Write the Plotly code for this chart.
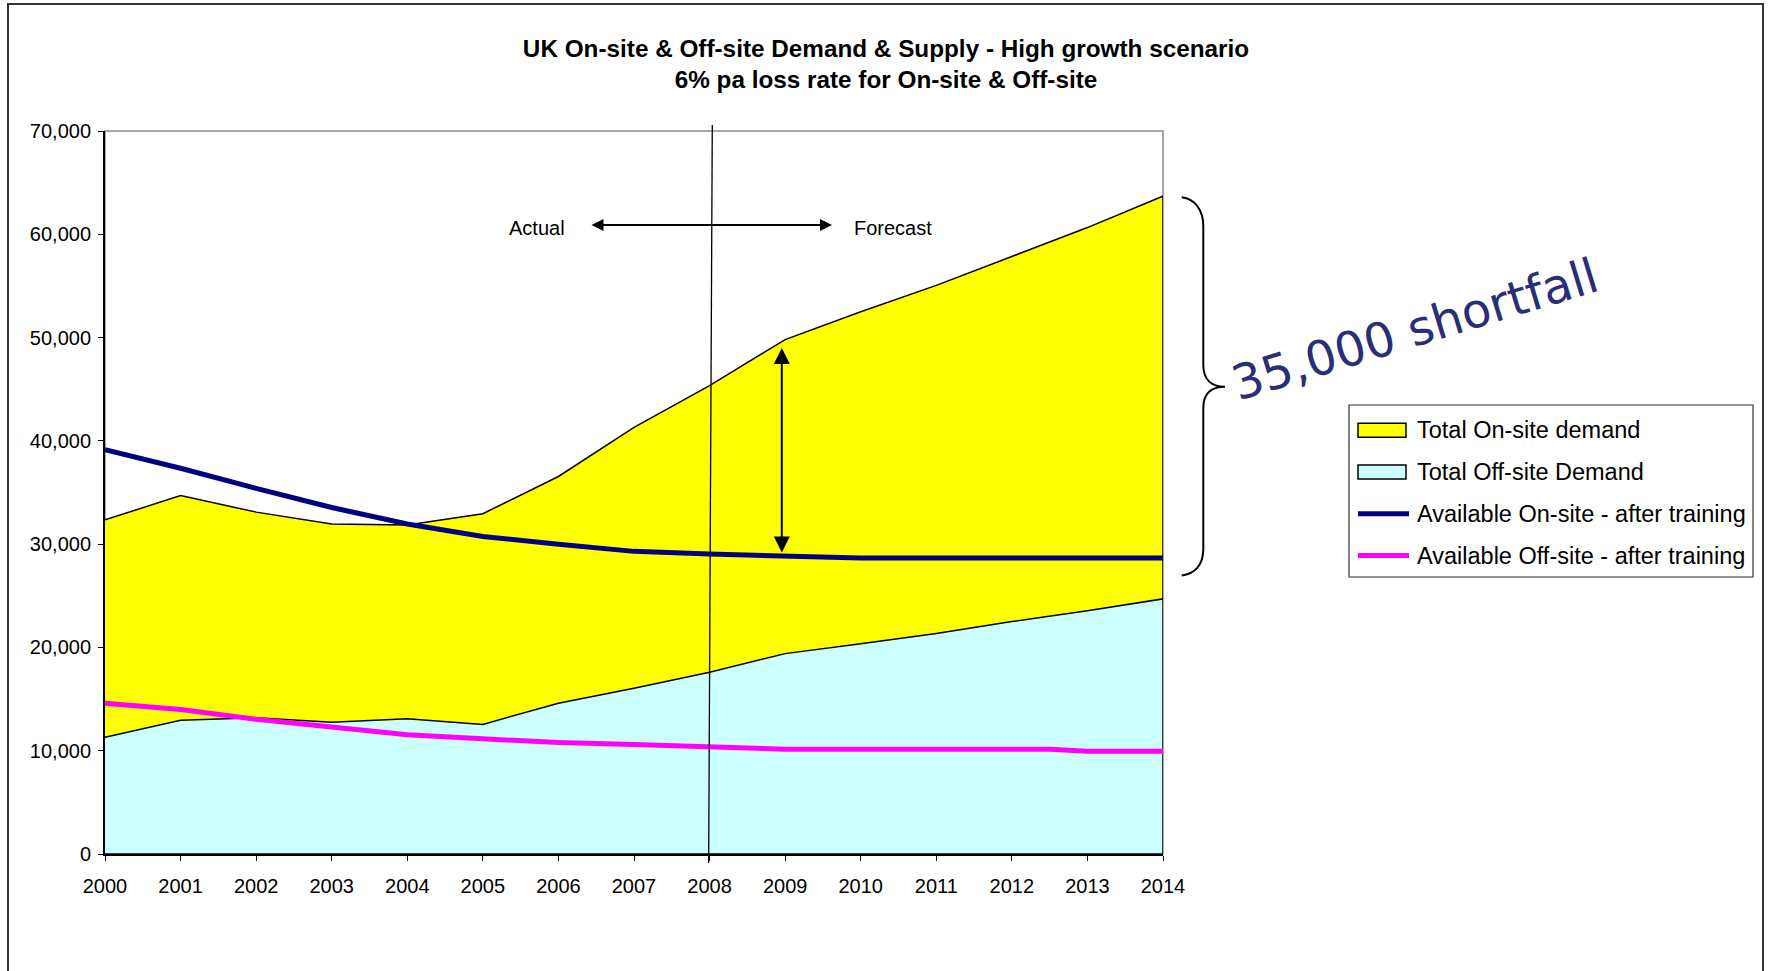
import plotly.graph_objects as go

# data
years = list(range(2000, 2015))
onsite_demand = [32350, 34700, 33100, 31950, 31850, 32950, 36550, 41300,
                 45350, 49800, 52500, 55050, 57850, 60650, 63700]
offsite_demand = [11300, 12950, 13200, 12750, 13100, 12550, 14600, 16050,
                  17600, 19400, 20350, 21350, 22500, 23550, 24700]
onsite_available = [39150, 37350, 35400, 33550, 31950, 30750, 30000, 29300,
                    29050, 28900, 28650, 28650, 28650, 28650, 28650]
offsite_years = years[:13] + [2012.5, 2013, 2014]
offsite_available = [14600, 14000, 13050, 12250, 11550, 11150, 10800, 10600,
                     10400, 10150, 10150, 10150, 10150, 10150, 9950, 9950]
y_ticks = [0, 10000, 20000, 30000, 40000, 50000, 60000, 70000]
series_names = ['Total On-site demand', 'Total Off-site Demand',
                'Available On-site - after training',
                'Available Off-site - after training']
colors = ['#FFFF00', '#CCFFFF', '#000080', '#FF00FF']

W, H = 1768, 971
# plot area in page pixels
L, R, T, B = 105, 1163, 131, 854
FONT = "Liberation Sans, Arial, sans-serif"


def px(x):
    return (x - L) / (R - L)


def py(y):
    return (B - y) / (B - T)


fig = go.Figure()

# areas are drawn as closed polygons so the outline also runs down the edges
for vals, name, col in [(onsite_demand, series_names[0], colors[0]),
                        (offsite_demand, series_names[1], colors[1])]:
    fig.add_trace(go.Scatter(
        x=years + [years[-1], years[0]], y=vals + [0, 0],
        mode='lines', fill='toself', fillcolor=col,
        line=dict(color='black', width=1.5), name=name))

fig.add_trace(go.Scatter(x=years, y=onsite_available, mode='lines',
                         line=dict(color=colors[2], width=5),
                         name=series_names[2]))
fig.add_trace(go.Scatter(x=offsite_years, y=offsite_available, mode='lines',
                         line=dict(color=colors[3], width=5),
                         name=series_names[3]))

# brace next to the 2014 gap
pts = [(1181.7, 197.3), (1195, 199), (1203.3, 210), (1203.3, 226),
       (1203.3, 365), (1203.3, 380), (1212, 386.7), (1225, 386.7),
       (1212, 386.7), (1203.3, 393), (1203.3, 408),
       (1203.3, 549), (1203.3, 565), (1195, 574), (1181.7, 575.5)]
p = [f"{px(a):.5f},{py(b):.5f}" for a, b in pts]
brace = (f"M{p[0]} C{p[1]} {p[2]} {p[3]} L{p[4]} C{p[5]} {p[6]} {p[7]} "
         f"C{p[8]} {p[9]} {p[10]} L{p[11]} C{p[12]} {p[13]} {p[14]}")

shapes = [
    # plot frame (grey top/right)
    dict(type='rect', xref='paper', yref='paper', x0=0, x1=1, y0=0, y1=1,
         line=dict(color='#8c8c8c', width=1.5), layer='below'),
    # actual / forecast divider
    dict(type='line', xref='x', yref='paper', x0=2008.036, x1=2007.988,
         y0=py(125), y1=py(863), line=dict(color='black', width=1.3)),
    dict(type='path', xref='paper', yref='paper', path=brace,
         line=dict(color='black', width=2)),
    # outer chart border
    dict(type='rect', xref='paper', yref='paper', x0=px(8), x1=px(1763),
         y0=py(990), y1=py(4), line=dict(color='#333333', width=2)),
    # legend box
    dict(type='rect', xref='paper', yref='paper', x0=px(1349), x1=px(1753),
         y0=py(577), y1=py(405), line=dict(color='#333333', width=1.2),
         fillcolor='white'),
]

annotations = [
    dict(text='Actual', xref='paper', yref='paper', x=px(567), y=py(228),
         xanchor='right', yanchor='middle', showarrow=False,
         font=dict(size=20, family=FONT, color='black')),
    dict(text='Forecast', xref='paper', yref='paper', x=px(852), y=py(228),
         xanchor='left', yanchor='middle', showarrow=False,
         font=dict(size=20, family=FONT, color='black')),
    dict(text='', xref='paper', yref='paper', axref='pixel', ayref='pixel',
         x=px(832), y=py(225), ax=-(832 - 590), ay=0, showarrow=True,
         arrowhead=2, arrowside='end+start', arrowsize=1.2, arrowwidth=2,
         arrowcolor='black', standoff=0, startstandoff=0),
    dict(text='', xref='paper', yref='paper', axref='pixel', ayref='pixel',
         x=px(781.8), y=py(348), ax=0, ay=554 - 348, showarrow=True,
         arrowhead=2, arrowside='end+start', arrowsize=1.6, arrowwidth=2,
         arrowcolor='black', standoff=0, startstandoff=0),
    dict(text='35,000 shortfall', xref='paper', yref='paper',
         x=px(1415), y=py(329), xanchor='center', yanchor='middle',
         textangle=-17, showarrow=False,
         font=dict(size=48, family='DejaVu Sans, Verdana, sans-serif',
                   color='#2a2d78')),
]

# hand-drawn legend to match the boxed swatches of the original
row_y = [430.3, 472, 513.7, 555.5]
for i, (name, col) in enumerate(zip(series_names, colors)):
    if i < 2:
        shapes.append(dict(type='rect', xref='paper', yref='paper',
                           x0=px(1358), x1=px(1406),
                           y0=py(row_y[i] + 7), y1=py(row_y[i] - 7),
                           fillcolor=col, line=dict(color='black', width=1.5)))
    else:
        shapes.append(dict(type='line', xref='paper', yref='paper',
                           x0=px(1358), x1=px(1409),
                           y0=py(row_y[i]), y1=py(row_y[i]),
                           line=dict(color=col, width=5)))
    annotations.append(dict(text=name, xref='paper', yref='paper',
                            x=px(1415), y=py(row_y[i]),
                            xanchor='left', yanchor='middle', showarrow=False,
                            font=dict(size=23.5, family=FONT, color='black')))

fig.update_layout(
    width=W, height=H,
    margin=dict(l=L, r=W - R, t=T, b=H - B),
    paper_bgcolor='white', plot_bgcolor='white',
    showlegend=False,
    title=dict(
        text='<b>UK On-site & Off-site Demand & Supply - High growth scenario'
             '<br>6% pa loss rate for On-site & Off-site</b>',
        x=886 / W, xanchor='center', xref='container',
        y=1 - 56.5 / H, yanchor='middle', yref='container',
        font=dict(size=24.3, family=FONT, color='black')),
    xaxis=dict(
        range=[2000, 2014], tickmode='array', tickvals=years,
        ticktext=[str(y) for y in years],
        showgrid=False, zeroline=False, showline=True, linecolor='black',
        linewidth=2, ticks='outside', ticklen=5, tickcolor='black',
        tickwidth=1, ticklabelstandoff=8,
        tickfont=dict(size=20, family=FONT, color='black')),
    yaxis=dict(
        range=[0, 70000], tickmode='array', tickvals=y_ticks,
        tickformat=',d', showgrid=False, zeroline=False, showline=True,
        linecolor='black', linewidth=2, ticks='outside', ticklen=5,
        tickcolor='black', tickwidth=1, ticklabelstandoff=3,
        tickfont=dict(size=20, family=FONT, color='black')),
    shapes=shapes,
    annotations=annotations,
    hovermode=False,
)

# drop the browser's default body margin so the figure fills the window
fig.write_html("out.html",
               config={'displayModeBar': False},
               post_script="document.body.style.margin='0';"
                           "document.documentElement.style.overflow='hidden';")
